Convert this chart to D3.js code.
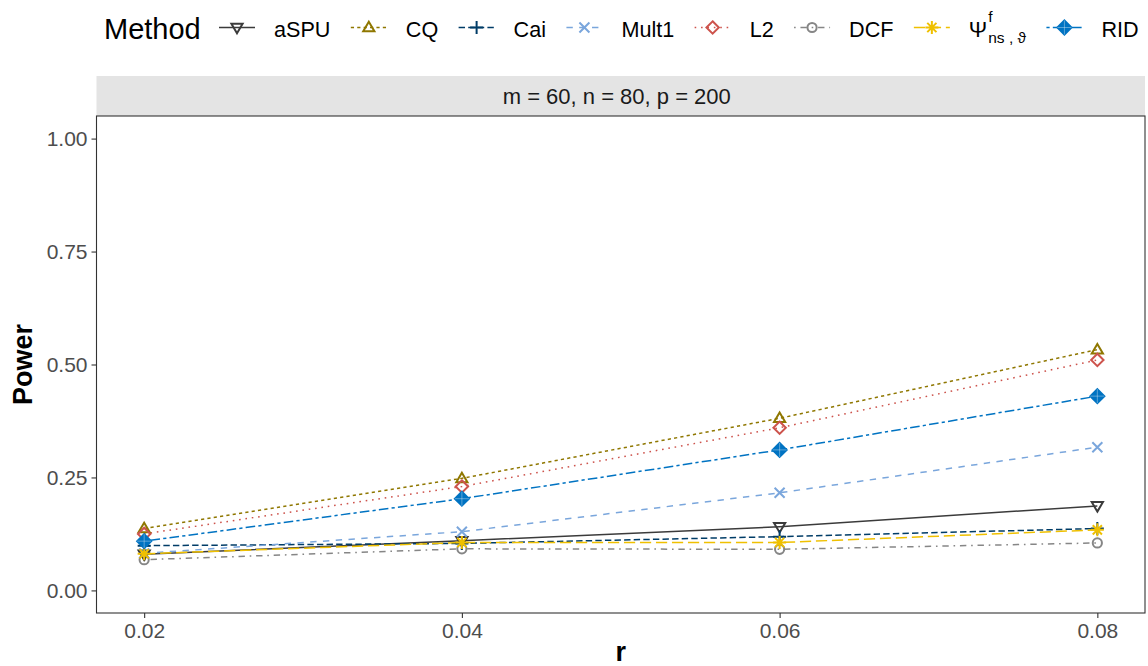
<!DOCTYPE html>
<html>
<head>
<meta charset="utf-8">
<script src="https://cdn.jsdelivr.net/npm/d3@7"></script>
<style>
  html, body { margin: 0; padding: 0; background: #ffffff; }
  svg { display: block; font-family: "Liberation Sans", Arial, Helvetica, sans-serif; }
</style>
</head>
<body>
<svg id="chart" width="1148" height="666"></svg>
<script>
// Power of each test as the signal proportion r grows (m = 60, n = 80, p = 200)
const rValues = [0.02, 0.04, 0.06, 0.08];
const methods = ["aSPU", "CQ", "Cai", "Mult1", "L2", "DCF", "Psi", "RID"];

const aSPU  = [0.080, 0.110, 0.141, 0.187];
const CQ    = [0.137, 0.248, 0.381, 0.533];
const Cai   = [0.099, 0.104, 0.119, 0.137];
const Mult1 = [0.082, 0.130, 0.216, 0.317];
const L2    = [0.125, 0.230, 0.360, 0.510];
const DCF   = [0.068, 0.092, 0.091, 0.105];
const Psi   = [0.081, 0.106, 0.106, 0.134];
const RID   = [0.109, 0.203, 0.311, 0.430];

const yTicks = [0, 0.25, 0.5, 0.75, 1];
const stripLabel = "m = 60, n = 80, p = 200";

const seriesValues = { aSPU, CQ, Cai, Mult1, L2, DCF, Psi, RID };

// JCO-style palette, ggplot default linetype sequence, one point shape per method
const U = 1.6; // dash unit (px)
const style = {
  aSPU:  { color: "#3B3B3B", dash: null,             shape: "triDown" },
  CQ:    { color: "#8F7700", dash: [2, 2],           shape: "triUp" },
  Cai:   { color: "#003C67", dash: [4, 2],           shape: "plus" },
  Mult1: { color: "#7AA6DC", dash: [4, 4],           shape: "cross" },
  L2:    { color: "#CD534C", dash: [1, 3],           shape: "diamond" },
  DCF:   { color: "#868686", dash: [1, 3, 4, 3],     shape: "circle" },
  Psi:   { color: "#EFC000", dash: [7, 3],           shape: "asterisk" },
  RID:   { color: "#0073C2", dash: [2, 2, 6, 2],     shape: "diamondPlus" }
};

const svg = d3.select("#chart");
const W = 1148, H = 666;
const panel = { left: 96.5, right: 1145, top: 116, bottom: 613 };

svg.append("rect").attr("width", W).attr("height", H).attr("fill", "#ffffff");

const x = d3.scaleLinear()
  .domain([0.02 - 0.003, 0.08 + 0.003])
  .range([panel.left, panel.right]);
const y = d3.scaleLinear()
  .domain([-0.05, 1.05])
  .range([panel.bottom, panel.top]);

// facet strip
svg.append("rect")
  .attr("x", panel.left).attr("y", 76)
  .attr("width", panel.right - panel.left).attr("height", 40)
  .attr("fill", "#e4e4e4");
svg.append("text")
  .attr("x", (panel.left + panel.right) / 2 - 4).attr("y", 104)
  .attr("text-anchor", "middle")
  .attr("font-size", 22).attr("fill", "#1a1a1a")
  .text(stripLabel);

// axes
const gx = svg.append("g")
  .attr("transform", `translate(0,${panel.bottom})`)
  .call(d3.axisBottom(x).tickValues(rValues).tickFormat(d3.format(".2f")).tickSize(5).tickPadding(5));
const gy = svg.append("g")
  .attr("transform", `translate(${panel.left},0)`)
  .call(d3.axisLeft(y).tickValues(yTicks).tickFormat(d3.format(".2f")).tickSize(5).tickPadding(4));
[gx, gy].forEach(g => {
  g.select(".domain").remove();
  g.selectAll(".tick line").attr("stroke", "#333333").attr("stroke-width", 1.1);
  g.selectAll(".tick text").attr("fill", "#4d4d4d").attr("font-size", 21)
    .attr("font-family", "'Liberation Sans', Arial, sans-serif");
});

// panel border
svg.append("rect")
  .attr("x", panel.left).attr("y", panel.top)
  .attr("width", panel.right - panel.left).attr("height", panel.bottom - panel.top)
  .attr("fill", "none").attr("stroke", "#333333").attr("stroke-width", 1.1);

// axis titles
svg.append("text")
  .attr("x", (panel.left + panel.right) / 2).attr("y", 661)
  .attr("text-anchor", "middle").attr("font-weight", "bold").attr("font-size", 27)
  .text("r");
svg.append("text")
  .attr("transform", `translate(32,${(panel.top + panel.bottom) / 2}) rotate(-90)`)
  .attr("text-anchor", "middle").attr("font-weight", "bold").attr("font-size", 27)
  .text("Power");

// point glyphs
function drawShape(g, shape, color) {
  const sw = 2;
  if (shape === "triUp" || shape === "triDown") {
    const s = shape === "triUp" ? 1 : -1;
    const h = 9.5, hw = 5.6;
    g.append("path")
      .attr("d", `M0,${-s * h * 0.6}L${hw},${s * h * 0.4}L${-hw},${s * h * 0.4}Z`)
      .attr("fill", "none").attr("stroke", color).attr("stroke-width", sw);
  } else if (shape === "plus") {
    g.append("path").attr("d", "M-6.5,0H6.5M0,-6.5V6.5")
      .attr("stroke", color).attr("stroke-width", sw).attr("fill", "none");
  } else if (shape === "cross") {
    g.append("path").attr("d", "M-5,-5L5,5M-5,5L5,-5")
      .attr("stroke", color).attr("stroke-width", sw).attr("fill", "none");
  } else if (shape === "diamond") {
    g.append("path").attr("d", "M0,-6.2L6.2,0L0,6.2L-6.2,0Z")
      .attr("stroke", color).attr("stroke-width", sw).attr("fill", "none");
  } else if (shape === "circle") {
    g.append("circle").attr("r", 4.6)
      .attr("stroke", color).attr("stroke-width", sw).attr("fill", "none");
  } else if (shape === "asterisk") {
    g.append("path").attr("d", "M-6.5,0H6.5M0,-6.5V6.5M-4.6,-4.6L4.6,4.6M-4.6,4.6L4.6,-4.6")
      .attr("stroke", color).attr("stroke-width", sw).attr("fill", "none");
  } else if (shape === "diamondPlus") {
    g.append("path").attr("d", "M0,-7L7,0L0,7L-7,0Z")
      .attr("stroke", color).attr("stroke-width", sw).attr("fill", color);
    g.append("path").attr("d", "M-7,0H7M0,-7V7")
      .attr("stroke", "#ffffff").attr("stroke-opacity", 0.35).attr("stroke-width", 1);
  }
}

const line = d3.line().x(d => x(d.r)).y(d => y(d.v));
const plot = svg.append("g");

const seriesData = methods.map(m => ({
  name: m,
  pts: rValues.map((r, i) => ({ r, v: seriesValues[m][i] }))
}));

// lines first, then points on top
seriesData.forEach(s => {
  const st = style[s.name];
  plot.append("path")
    .datum(s.pts)
    .attr("d", line)
    .attr("fill", "none")
    .attr("stroke", st.color)
    .attr("stroke-width", 1.5)
    .attr("stroke-dasharray", st.dash ? st.dash.map(d => d * U).join(",") : null);
});
seriesData.forEach(s => {
  const st = style[s.name];
  s.pts.forEach(p => {
    const g = plot.append("g").attr("transform", `translate(${x(p.r)},${y(p.v)})`);
    drawShape(g, st.shape, st.color);
  });
});

// legend
const leg = svg.append("g");
leg.append("text").attr("x", 104).attr("y", 39).attr("font-size", 29).attr("fill", "#000")
  .text("Method");

let cursor = 219;
const keyW = 36, keyY = 27.5;
methods.forEach(m => {
  const st = style[m];
  leg.append("line")
    .attr("x1", cursor).attr("x2", cursor + keyW)
    .attr("y1", keyY).attr("y2", keyY)
    .attr("stroke", st.color).attr("stroke-width", 1.5)
    .attr("stroke-dasharray", st.dash ? st.dash.map(d => d * U).join(",") : null);
  drawShape(leg.append("g").attr("transform", `translate(${cursor + keyW / 2},${keyY})`), st.shape, st.color);
  const tx = cursor + keyW + 19;
  let endX;
  if (m === "Psi") {
    const big = leg.append("text").attr("x", tx).attr("y", 37).attr("font-size", 22).attr("fill", "#000").text("Ψ");
    const bw = big.node().getComputedTextLength();
    leg.append("text").attr("x", tx + bw + 1).attr("y", 22).attr("font-size", 15.5).attr("fill", "#000").text("f");
    const sub = leg.append("text").attr("x", tx + bw + 1).attr("y", 43).attr("font-size", 15.5).attr("fill", "#000").text("ns , ϑ");
    endX = tx + bw + 1 + sub.node().getComputedTextLength();
  } else {
    const t = leg.append("text").attr("x", tx).attr("y", 37).attr("font-size", 21.6).attr("fill", "#000").text(m);
    endX = tx + t.node().getComputedTextLength();
  }
  cursor = endX + 20.4;
});
</script>
</body>
</html>
